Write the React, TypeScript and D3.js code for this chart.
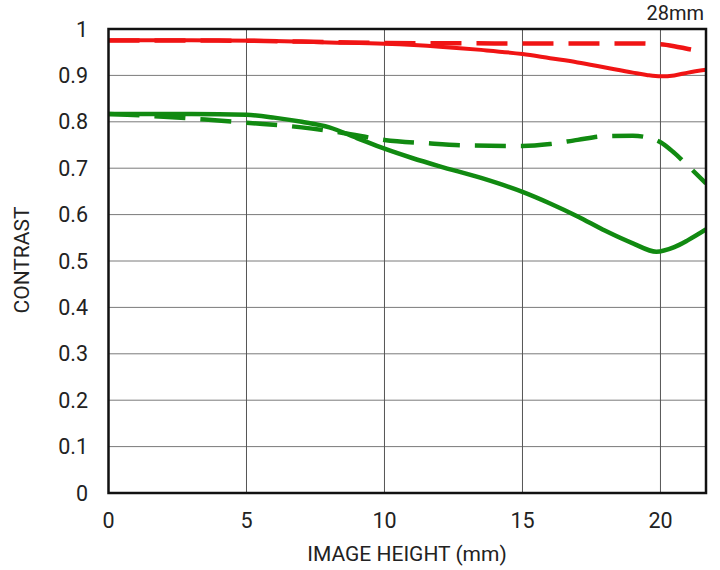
import React from "react";
import * as d3 from "d3";

const xTicks = [0, 5, 10, 15, 20];
const yTicks = [0, 0.1, 0.2, 0.3, 0.4, 0.5, 0.6, 0.7, 0.8, 0.9, 1];
const yTickLabels = ["0", "0.1", "0.2", "0.3", "0.4", "0.5", "0.6", "0.7", "0.8", "0.9", "1"];

const redSolidX = [0, 3, 6, 8, 10, 12, 13.5, 15, 16, 17, 18, 19, 19.5, 20, 20.5, 21, 21.65];
const redSolidY = [0.976, 0.976, 0.974, 0.971, 0.968, 0.962, 0.955, 0.946, 0.937, 0.928, 0.917, 0.906, 0.901, 0.898, 0.900, 0.906, 0.912];

const redDashX = [0, 4, 8, 10, 14, 19, 20, 20.5, 21, 21.65];
const redDashY = [0.975, 0.975, 0.972, 0.970, 0.969, 0.969, 0.967, 0.963, 0.957, 0.950];

const greenSolidX = [0, 3, 5, 6, 7, 8, 9, 10, 11, 12, 13.5, 15, 16, 17, 18, 19, 19.85, 20.5, 21, 21.65];
const greenSolidY = [0.817, 0.817, 0.815, 0.809, 0.800, 0.788, 0.765, 0.742, 0.722, 0.704, 0.679, 0.649, 0.624, 0.596, 0.565, 0.538, 0.520, 0.530, 0.545, 0.568];

const greenDashX = [0, 2, 3.5, 5, 7, 8.5, 10, 11.5, 13, 15, 16, 17, 18, 19, 19.6, 20, 20.5, 21, 21.65];
const greenDashY = [0.817, 0.811, 0.805, 0.798, 0.788, 0.776, 0.761, 0.754, 0.749, 0.748, 0.752, 0.761, 0.769, 0.770, 0.765, 0.756, 0.733, 0.705, 0.667];

const RED = "#f01414";
const GREEN = "#118a11";
const FONT = "Roboto, 'Noto Sans', sans-serif";

export default function App() {
  const left = 108.5, right = 706, top = 29, bottom = 493;
  const x = d3.scaleLinear().domain([0, 21.65]).range([left, right]);
  const y = d3.scaleLinear().domain([0, 1]).range([bottom, top]);
  const line = d3
    .line<[number, number]>()
    .x((d) => x(d[0]))
    .y((d) => y(d[1]))
    .curve(d3.curveMonotoneX);
  const pts = (xs: number[], ys: number[]) => xs.map((v, i) => [v, ys[i]] as [number, number]);

  const series = [
    { xs: redSolidX, ys: redSolidY, color: RED, dash: undefined, w: 4 },
    { xs: redDashX, ys: redDashY, color: RED, dash: "31 15", w: 4.5 },
    { xs: greenSolidX, ys: greenSolidY, color: GREEN, dash: undefined, w: 4.5 },
    { xs: greenDashX, ys: greenDashY, color: GREEN, dash: "31 15", w: 4.5 },
  ];

  return (
    <svg
      width={720}
      height={570}
      style={{ position: "absolute", left: 0, top: 0, background: "#fff" }}
      fontFamily={FONT}
    >
      <defs>
        <clipPath id="plot">
          <rect x={left} y={top} width={right - left} height={bottom - top} />
        </clipPath>
      </defs>
      <rect x={0} y={0} width={720} height={570} fill="#fff" />
      {yTicks.slice(1, -1).map((t) => (
        <line key={"gy" + t} x1={left} x2={right} y1={y(t)} y2={y(t)} stroke="#7a7a7a" strokeWidth={1} />
      ))}
      {xTicks.slice(1).map((t) => (
        <line key={"gx" + t} x1={x(t)} x2={x(t)} y1={top} y2={bottom} stroke="#555" strokeWidth={1} />
      ))}
      <g clipPath="url(#plot)">
        {series.map((s, i) => (
          <path
            key={i}
            d={line(pts(s.xs, s.ys)) || ""}
            fill="none"
            stroke={s.color}
            strokeWidth={s.w}
            strokeDasharray={s.dash}
          />
        ))}
      </g>
      <rect x={left} y={top} width={right - left} height={bottom - top} fill="none" stroke="#111" strokeWidth={2.5} />
      {yTicks.map((t, i) => (
        <text key={"ty" + t} x={88} y={y(t)} dy="0.35em" textAnchor="end" fontSize={21.5} fill="#222">
          {yTickLabels[i]}
        </text>
      ))}
      {xTicks.map((t) => (
        <text key={"tx" + t} x={x(t)} y={528} textAnchor="middle" fontSize={21.5} fill="#222">
          {t}
        </text>
      ))}
      <text x={407} y={561} textAnchor="middle" fontSize={21} fill="#222">
        IMAGE HEIGHT (mm)
      </text>
      <text transform={`translate(29,260) rotate(-90)`} textAnchor="middle" fontSize={21} fill="#222">
        CONTRAST
      </text>
      <text x={704} y={20} textAnchor="end" fontSize={20} fill="#222">
        28mm
      </text>
    </svg>
  );
}
